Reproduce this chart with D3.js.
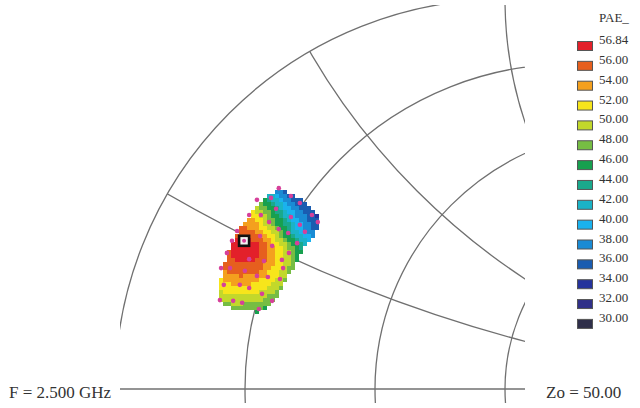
<!DOCTYPE html>
<html>
<head>
<meta charset="utf-8">
<script src="https://cdn.jsdelivr.net/npm/d3@7"></script>
<style>
  html, body { margin: 0; padding: 0; background: #ffffff; }
  svg { display: block; }
</style>
</head>
<body>
<svg id="chart" width="640" height="408"></svg>
<script>
// ---- Smith chart grid (normalised to Zo) ----
const resistanceCircles = [0.2, 0.5, 1];
const reactanceArcs = [0.268, 0.577, 1];

// ---- PAE legend ----
const legendTitle = "PAE_";
const legendLabels = ["56.84", "56.00", "54.00", "52.00", "50.00", "48.00", "46.00", "44.00",
                      "42.00", "40.00", "38.00", "36.00", "34.00", "32.00", "30.00"];
const legendColors = ["#e3202a", "#e65f1e", "#f4a01e", "#f7e51b", "#c2d82b", "#76bd43", "#17a04f",
                      "#1aa98c", "#1bb3c6", "#1ab2ee", "#1a8bd4", "#1a5cb0", "#25339c", "#303088", "#2f2f4a"];

// ---- PAE contours: polar outline (reflection-coefficient units) around the peak ----
const contourPeak = [-0.667, 0.354];
const contourLevels = [56, 54, 52, 50, 48, 46, 44, 42, 40, 38, 36, 34];
const contourAngles = [0, 20, 45, 60, 75, 90, 135, 180, 225, 270, 315];
const contourRadii = [
  [0.038, 0.038, 0.033, 0.031, 0.031, 0.031, 0.036, 0.038, 0.038, 0.033, 0.038],
  [0.059, 0.056, 0.051, 0.051, 0.056, 0.064, 0.056, 0.062, 0.072, 0.064, 0.062],
  [0.077, 0.072, 0.067, 0.072, 0.082, 0.090, 0.077, 0.085, 0.097, 0.087, 0.082],
  [0.097, 0.085, 0.079, 0.090, 0.105, 0.113, 0.103, 0.110, 0.123, 0.113, 0.110],
  [0.115, 0.097, 0.095, 0.105, 0.123, 0.133, 0.128, 0.136, 0.149, 0.136, 0.128],
  [0.131, 0.105, 0.108, 0.121, 0.138, 0.149, 0.149, 0.154, 0.169, 0.159, 0.144],
  [0.146, 0.118, 0.123, 0.136, 0.154, 0.167, 0.174, 0.179, 0.195, 0.185, 0.162],
  [0.162, 0.131, 0.136, 0.146, 0.164, 0.185, 0.200, 0.205, 0.221, 0.210, 0.179],
  [0.177, 0.144, 0.149, 0.156, 0.174, 0.200, 0.226, 0.231, 0.246, 0.236, 0.197],
  [0.192, 0.159, 0.162, 0.167, 0.185, 0.215, 0.251, 0.256, 0.272, 0.262, 0.215],
  [0.210, 0.179, 0.179, 0.179, 0.197, 0.231, 0.277, 0.282, 0.297, 0.287, 0.233],
  [0.231, 0.205, 0.200, 0.195, 0.210, 0.246, 0.303, 0.308, 0.323, 0.313, 0.251]
];

// ---- Load-pull region outline (reflection coefficient, re / im) ----
const regionOutline = [
  [-0.580, 0.510], [-0.546, 0.500], [-0.526, 0.490], [-0.510, 0.480], [-0.495, 0.464],
  [-0.482, 0.449], [-0.472, 0.433], [-0.474, 0.415], [-0.487, 0.397], [-0.503, 0.377],
  [-0.518, 0.354], [-0.531, 0.328], [-0.546, 0.303], [-0.562, 0.277], [-0.574, 0.251],
  [-0.590, 0.226], [-0.608, 0.208], [-0.631, 0.197], [-0.667, 0.200], [-0.697, 0.205],
  [-0.721, 0.215], [-0.731, 0.233], [-0.731, 0.267], [-0.726, 0.297], [-0.718, 0.328],
  [-0.708, 0.356], [-0.695, 0.385], [-0.680, 0.410], [-0.662, 0.436], [-0.644, 0.459],
  [-0.626, 0.477], [-0.605, 0.495]
];

// ---- Measured load points ----
const measuredPoints = [
  [-0.580, 0.515], [-0.636, 0.485], [-0.600, 0.490], [-0.549, 0.495], [-0.526, 0.477],
  [-0.587, 0.462], [-0.656, 0.446], [-0.626, 0.446], [-0.549, 0.441], [-0.495, 0.446],
  [-0.480, 0.428], [-0.605, 0.428], [-0.526, 0.421], [-0.687, 0.405], [-0.628, 0.392],
  [-0.580, 0.410], [-0.556, 0.400], [-0.513, 0.403], [-0.700, 0.380], [-0.669, 0.380],
  [-0.533, 0.374], [-0.597, 0.367], [-0.713, 0.349], [-0.656, 0.333], [-0.554, 0.349],
  [-0.728, 0.310], [-0.705, 0.310], [-0.618, 0.328], [-0.572, 0.331], [-0.667, 0.303],
  [-0.636, 0.290], [-0.577, 0.282], [-0.721, 0.267], [-0.680, 0.267], [-0.656, 0.259],
  [-0.608, 0.287], [-0.623, 0.244], [-0.731, 0.228], [-0.697, 0.226], [-0.674, 0.221],
  [-0.597, 0.226], [-0.631, 0.205], [-0.569, 0.310]
];
const optimumPoint = [-0.669, 0.380];

const frequencyLabel = "F = 2.500 GHz";
const impedanceLabel = "Zo = 50.00";

// ---- Layout ----
const svg = d3.select("#chart");
const centerX = 505, centerY = 389, radiusPx = 390;
const plotBox = { left: 120, right: 525, top: 5, bottom: 403 };
const cellSize = 4;
const gridColor = "#707070";
const textFont = "'Liberation Serif', 'Times New Roman', serif";

const x = d3.scaleLinear().domain([-1, 1]).range([centerX - radiusPx, centerX + radiusPx]);
const y = d3.scaleLinear().domain([-1, 1]).range([centerY + radiusPx, centerY - radiusPx]);
const len = v => x(v) - x(0);

const defs = svg.append("defs");
defs.append("clipPath").attr("id", "plotClip")
  .append("rect")
  .attr("x", plotBox.left).attr("y", plotBox.top)
  .attr("width", plotBox.right - plotBox.left).attr("height", plotBox.bottom - plotBox.top);
defs.append("clipPath").attr("id", "unitClip")
  .append("circle").attr("cx", x(0)).attr("cy", y(0)).attr("r", len(1));

const plot = svg.append("g").attr("clip-path", "url(#plotClip)");
const grid = plot.append("g")
  .attr("fill", "none").attr("stroke", gridColor).attr("stroke-width", 1.3);

// constant-resistance circles
grid.selectAll("circle.res")
  .data(resistanceCircles)
  .join("circle")
  .attr("class", "res")
  .attr("cx", r => x(r / (1 + r)))
  .attr("cy", y(0))
  .attr("r", r => len(1 / (1 + r)));

// constant-reactance arcs (inside the unit circle only)
const arcs = grid.append("g").attr("clip-path", "url(#unitClip)");
arcs.selectAll("circle.reac")
  .data(reactanceArcs.flatMap(v => [v, -v]))
  .join("circle")
  .attr("class", "reac")
  .attr("cx", x(1))
  .attr("cy", v => y(1 / v))
  .attr("r", v => len(1 / Math.abs(v)));

// |Γ| = 1 boundary and real axis
grid.append("circle").attr("cx", x(0)).attr("cy", y(0)).attr("r", len(1));
grid.append("line")
  .attr("x1", x(-1)).attr("x2", x(1))
  .attr("y1", y(0)).attr("y2", y(0));

// ---- PAE heat cells ----
function radiusAt(row, angleDeg) {
  const angs = contourAngles.concat([360]);
  const vals = row.concat([row[0]]);
  for (let i = 0; i < angs.length - 1; i++) {
    if (angleDeg >= angs[i] && angleDeg <= angs[i + 1]) {
      const t = (angleDeg - angs[i]) / (angs[i + 1] - angs[i]);
      return d3.interpolateNumber(vals[i], vals[i + 1])(t);
    }
  }
  return row[0];
}
function bandIndex(g) {
  const dx = g[0] - contourPeak[0], dy = g[1] - contourPeak[1];
  const dist = Math.hypot(dx, dy);
  let ang = Math.atan2(dy, dx) * 180 / Math.PI;
  if (ang < 0) ang += 360;
  for (let k = 0; k < contourLevels.length; k++) {
    if (dist <= radiusAt(contourRadii[k], ang)) return k;
  }
  return contourLevels.length;
}

const regionPx = regionOutline.map(([re, im]) => [x(re), y(im)]);
const [rx0, rx1] = d3.extent(regionPx, d => d[0]);
const [ry0, ry1] = d3.extent(regionPx, d => d[1]);
const cells = [];
for (let px = Math.floor(rx0); px < rx1; px += cellSize) {
  for (let py = Math.floor(ry0); py < ry1; py += cellSize) {
    const c = [px + cellSize / 2, py + cellSize / 2];
    if (!d3.polygonContains(regionPx, c)) continue;
    const g = [x.invert(c[0]), y.invert(c[1])];
    cells.push({ px, py, band: bandIndex(g) });
  }
}
plot.append("g").attr("shape-rendering", "crispEdges")
  .selectAll("rect")
  .data(cells)
  .join("rect")
  .attr("x", d => d.px).attr("y", d => d.py)
  .attr("width", cellSize).attr("height", cellSize)
  .attr("fill", d => legendColors[d.band]);

// ---- measured points and optimum marker ----
plot.append("g")
  .selectAll("circle")
  .data(measuredPoints)
  .join("circle")
  .attr("cx", d => x(d[0])).attr("cy", d => y(d[1]))
  .attr("r", 2.3)
  .attr("fill", "#d6409a");

const ox = x(optimumPoint[0]), oy = y(optimumPoint[1]);
plot.append("rect")
  .attr("x", ox - 5).attr("y", oy - 5)
  .attr("width", 10).attr("height", 10)
  .attr("fill", "#f2f2f2").attr("stroke", "#111").attr("stroke-width", 2.6);
plot.append("circle").attr("cx", ox).attr("cy", oy).attr("r", 2).attr("fill", "#d6409a");

// ---- legend ----
const legend = svg.append("g").attr("font-family", textFont).attr("font-size", 13).attr("fill", "#333");
legend.append("text").attr("x", 599).attr("y", 21.5).text(legendTitle);
const rowStep = 19.85;
legend.selectAll("text.lab")
  .data(legendLabels)
  .join("text")
  .attr("class", "lab")
  .attr("x", 599)
  .attr("y", (d, i) => 44 + i * rowStep)
  .text(d => d);
legend.selectAll("rect")
  .data(legendColors)
  .join("rect")
  .attr("x", 577.5)
  .attr("y", (d, i) => 41.5 + i * rowStep)
  .attr("width", 15).attr("height", 9)
  .attr("fill", d => d)
  .attr("stroke", "#555").attr("stroke-width", 1);

// ---- footer labels ----
svg.append("text")
  .attr("x", 9).attr("y", 398)
  .attr("font-family", textFont).attr("font-size", 17).attr("fill", "#333")
  .text(frequencyLabel);
svg.append("text")
  .attr("x", 546).attr("y", 398)
  .attr("font-family", textFont).attr("font-size", 17).attr("fill", "#333")
  .text(impedanceLabel);
</script>
</body>
</html>
